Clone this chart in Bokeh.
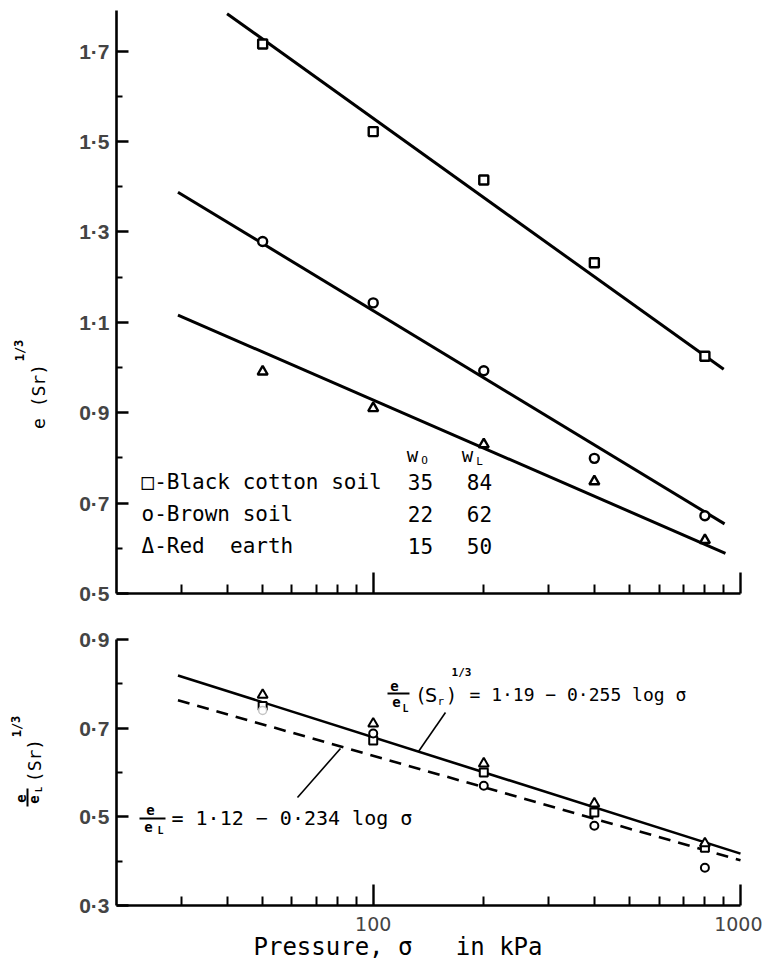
import math
from bokeh.plotting import figure
from bokeh.layouts import column
from bokeh.models import FixedTicker, Label, Range1d, Arrow, CustomJSTickFormatter
from bokeh.embed import file_html
from bokeh.resources import INLINE

# ---------------- data ----------------
pressure = [50, 100, 200, 400, 800]            # kPa

# upper panel: e (Sr)^1/3
black_cotton = [1.716, 1.522, 1.415, 1.232, 1.025]
brown_soil = [1.279, 1.143, 0.993, 0.799, 0.672]
red_earth = [0.991, 0.910, 0.830, 0.748, 0.618]

# fitted straight lines (end points)
black_fit_x = [40, 900]
black_fit_y = [1.783, 0.996]
brown_fit_x = [29.4, 905]
brown_fit_y = [1.388, 0.654]
red_fit_x = [29.4, 910]
red_fit_y = [1.116, 0.589]

# lower panel: e/eL (Sr)^1/3 and e/eL
norm_red = [0.775, 0.710, 0.620, 0.530, 0.440]       # triangles
norm_black = [0.750, 0.672, 0.600, 0.510, 0.430]     # squares
norm_brown_x = [100, 200, 400, 800]
norm_brown = [0.688, 0.570, 0.480, 0.385]            # circles
faint_x = [50]
faint_y = [0.740]

solid_fit_x = [29.4, 1000]      # e/eL (Sr)^1/3 = 1.19 - 0.255 log s
solid_fit_y = [0.819, 0.417]
dash_fit_x = [29.4, 1000]       # e/eL = 1.12 - 0.234 log s
dash_fit_y = [0.763, 0.402]

NB = "\u00a0"
soil_names = ["\u25a1-Black cotton soil", "o-Brown soil", "\u0394-Red" + NB + NB + "earth"]
w_o = ["35", "22", "15"]
w_l = ["84", "62", "50"]

x_bounds = (20, 1000)
x_major = [100, 1000]
x_minor = [30, 40, 50, 60, 70, 80, 90, 200, 300, 400, 500, 600, 700, 800, 900]
top_y_bounds = (0.5, 1.79)
top_y_major = [0.5, 0.7, 0.9, 1.1, 1.3, 1.5, 1.7]
top_y_minor = [0.6, 0.8, 1.0, 1.2, 1.4, 1.6]
bot_y_bounds = (0.3, 0.9)
bot_y_major = [0.3, 0.5, 0.7, 0.9]
bot_y_minor = [0.4, 0.6, 0.8]

# ---------------- geometry (page pixels) ----------------
MONO = "DejaVu Sans Mono"
SANS = "DejaVu Sans"
TICKF = "Liberation Sans"
W = 762
H1 = 613
H2 = 355
AX_L, AX_R = 116, 740          # page x of 20 kPa and 1000 kPa
T_TOP, T_BOT = 10, 593         # page y of upper axis top / bottom
B_TOP, B_BOT = 639, 905        # page y of lower axis top / bottom


def x_range_full():
    lo, hi = math.log10(x_bounds[0]), math.log10(x_bounds[1])
    per = (AX_R - AX_L) / (hi - lo)
    return Range1d(10 ** (lo - AX_L / per), 10 ** (hi + (W - AX_R) / per))


def y_range_full(bounds, top_px, bot_px, fig_top, fig_bot):
    per = (bot_px - top_px) / (bounds[1] - bounds[0])
    return Range1d(bounds[0] - (fig_bot - bot_px) / per, bounds[1] + (top_px - fig_top) / per)


def make_fig(h, yr):
    p = figure(width=W, height=h, x_axis_type="log", x_range=x_range_full(), y_range=yr,
               output_backend="svg", toolbar_location=None,
               min_border=0, min_border_left=0, min_border_right=0,
               min_border_top=0, min_border_bottom=0)
    p.title.visible = False
    p.outline_line_color = None
    p.grid.visible = False
    return p


def style_axes(p, ybounds, ymaj, ymin, show_x_labels):
    for ax in (p.xaxis[0], p.yaxis[0]):
        ax.axis_line_width = 2.6
        ax.axis_line_color = "black"
        ax.major_tick_line_width = 2.4
        ax.minor_tick_line_width = 2.0
        ax.major_tick_line_color = "black"
        ax.minor_tick_line_color = "black"
        ax.major_tick_out = 0
        ax.minor_tick_out = 0
    ya, xa = p.yaxis[0], p.xaxis[0]
    ya.fixed_location = x_bounds[0]
    ya.bounds = ybounds
    ya.ticker = FixedTicker(ticks=ymaj, minor_ticks=ymin)
    ya.major_tick_in = 12
    ya.minor_tick_in = 6
    ya.formatter = CustomJSTickFormatter(code="return tick.toFixed(1).replace('.', '\u00b7')")
    ya.major_label_text_font = TICKF
    ya.major_label_text_font_style = "bold"
    ya.major_label_text_font_size = "21px"
    ya.major_label_standoff = 7
    xa.fixed_location = ybounds[0]
    xa.bounds = x_bounds
    xa.ticker = FixedTicker(ticks=x_major, minor_ticks=x_minor)
    xa.major_tick_in = 21
    xa.minor_tick_in = 9
    if show_x_labels:
        xa.formatter = CustomJSTickFormatter(code="return tick.toFixed(0)")
        xa.major_label_text_font = SANS
        xa.major_label_text_font_size = "19px"
        xa.major_label_standoff = 11
    else:
        xa.formatter = CustomJSTickFormatter(code="return ''")
        xa.major_label_text_font_size = "1px"


def put(p, fb, px, py, text, size, font=MONO, align="center", baseline="middle",
        angle=0.0, style="normal", color="black"):
    p.add_layout(Label(x=px, y=fb - py, x_units="screen", y_units="screen",
                       text=text, text_font=font, text_font_size=f"{size}px",
                       text_font_style=style, text_align=align, text_baseline=baseline,
                       angle=angle, text_color=color))


def bar(p, fb, x1, y1, x2, y2, width=2.0):
    p.add_layout(Arrow(end=None, x_start=x1, y_start=fb - y1, x_end=x2, y_end=fb - y2,
                       start_units="screen", end_units="screen",
                       line_width=width, line_color="black"))


# ---------------- upper panel ----------------
p1 = make_fig(H1, y_range_full(top_y_bounds, T_TOP, T_BOT, 0, H1))
style_axes(p1, top_y_bounds, top_y_major, top_y_minor, False)
FB1 = H1

for fx, fy in ((black_fit_x, black_fit_y), (brown_fit_x, brown_fit_y), (red_fit_x, red_fit_y)):
    p1.line(fx, fy, line_color="black", line_width=3)

p1.scatter(pressure, black_cotton, marker="square", size=9, fill_color="white",
           line_color="black", line_width=2.4)
p1.scatter(pressure, brown_soil, marker="circle", size=9, fill_color="white",
           line_color="black", line_width=2.4)
p1.scatter(pressure, red_earth, marker="triangle", size=10, fill_color="white",
           line_color="black", line_width=2.4)

rows_y = [481, 513, 545]
for name, a, b, ry in zip(soil_names, w_o, w_l, rows_y):
    put(p1, FB1, 141, ry, name, 21, align="left")
    put(p1, FB1, 420, ry, a, 21)
    put(p1, FB1, 479, ry, b, 21)
put(p1, FB1, 412, 454, "w", 19)
put(p1, FB1, 424, 460, "O", 11)
put(p1, FB1, 467, 454, "w", 19)
put(p1, FB1, 479, 461, "L", 11)

put(p1, FB1, 38, 396, "e (Sr)", 18, angle=1.5708)
put(p1, FB1, 19, 350, "1/3", 12, angle=1.5708, style="bold")

# ---------------- lower panel ----------------
p2 = make_fig(H2, y_range_full(bot_y_bounds, B_TOP - H1, B_BOT - H1, 0, H2))
style_axes(p2, bot_y_bounds, bot_y_major, bot_y_minor, True)
FB2 = H1 + H2

p2.line(solid_fit_x, solid_fit_y, line_color="black", line_width=2.6)
p2.line(dash_fit_x, dash_fit_y, line_color="black", line_width=2.6, line_dash="12 8")

p2.scatter(pressure, norm_black, marker="square", size=8, fill_color="white",
           line_color="black", line_width=2)
p2.scatter(norm_brown_x, norm_brown, marker="circle", size=8, fill_color="white",
           line_color="black", line_width=2)
p2.scatter(faint_x, faint_y, marker="circle", size=8, fill_color="white",
           line_color="#c4c4c4", line_width=1.5)
p2.scatter(pressure, norm_red, marker="triangle", size=10, fill_color="white",
           line_color="black", line_width=2)

# equation 1 : e/eL (Sr)^1/3 = 1.19 - 0.255 log s
put(p2, FB2, 394, 685, "e", 14, style="bold")
bar(p2, FB2, 387, 693, 409, 693, 2.0)
put(p2, FB2, 396, 701, "e", 14, style="bold")
put(p2, FB2, 405, 708, "L", 10, style="bold")
put(p2, FB2, 417, 694, "(S", 19, font=SANS, align="left")
put(p2, FB2, 437, 701, "r", 11, align="left")
put(p2, FB2, 447, 694, ")", 19, font=SANS, align="left")
put(p2, FB2, 461, 672, "1/3", 11, style="bold")
put(p2, FB2, 469, 694, "= 1\u00b719 \u2212 0\u00b7255 log \u03c3", 18, align="left")
bar(p2, FB2, 418, 751, 445, 712, 1.6)

# equation 2 : e/eL = 1.12 - 0.234 log s
put(p2, FB2, 150, 809, "e", 14, style="bold")
bar(p2, FB2, 139, 818, 165, 818, 2.2)
put(p2, FB2, 148, 826, "e", 14, style="bold")
put(p2, FB2, 160, 830, "L", 10, style="bold")
put(p2, FB2, 171, 817, "= 1\u00b712 \u2212 0\u00b7234 log \u03c3", 20, align="left")
bar(p2, FB2, 297, 797, 340, 748, 1.6)

# y-axis title of the lower panel
put(p2, FB2, 20, 798, "e", 14, angle=1.5708, style="bold")
bar(p2, FB2, 27, 806, 27, 788, 2.0)
put(p2, FB2, 33, 799, "e", 14, angle=1.5708, style="bold")
put(p2, FB2, 38, 789, "L", 9, angle=1.5708, style="bold")
put(p2, FB2, 34, 760, "(Sr)", 18, angle=1.5708)
put(p2, FB2, 16, 726, "1/3", 12, angle=1.5708, style="bold")

# x-axis title
put(p2, FB2, 253, 946, "Pressure, \u03c3" + NB * 3 + "in kPa", 24, align="left")

layout = column(p1, p2)
open("out.html", "w").write(file_html(layout, INLINE))
